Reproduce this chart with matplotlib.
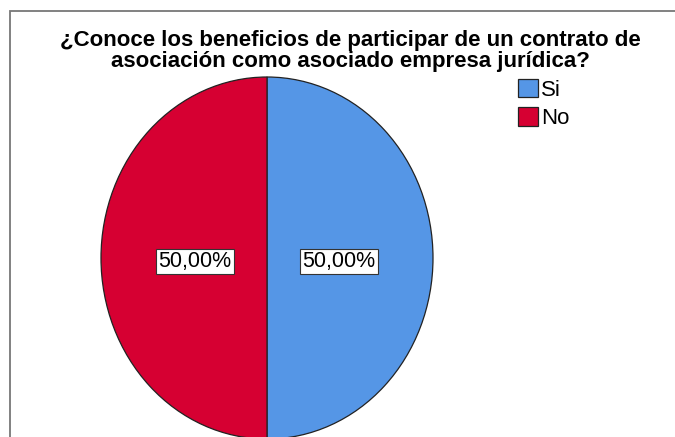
import matplotlib
matplotlib.use("Agg")
import matplotlib.pyplot as plt
from matplotlib.patches import Rectangle

categories = ["Si", "No"]
values = [50.0, 50.0]
colors = ["#5596E6", "#D60032"]
title = "¿Conoce los beneficios de participar de un contrato de\nasociación como asociado empresa jurídica?"

W, H = 675, 437
fig = plt.figure(figsize=(W / 100, H / 100), dpi=100)
plt.rcParams['font.family'] = ['Liberation Sans', 'DejaVu Sans']

# frame of chart area
fig.add_artist(Rectangle((10 / W, -0.1), 1.2, (H - 11) / H + 0.1, transform=fig.transFigure,
                         fill=False, edgecolor="#777777", linewidth=1.3))

# pie axes (slightly elliptical, as in the original)
left_px, right_px, top_px, bot_px = 101, 433, 77, 439
ax = fig.add_axes([left_px / W, (H - bot_px) / H, (right_px - left_px) / W, (bot_px - top_px) / H])
wedges, texts, autotexts = ax.pie(values, colors=colors, startangle=90, counterclock=False,
                                  autopct=lambda p: f"{p:.2f}%".replace(".", ","),
                                  pctdistance=0.435,
                                  wedgeprops=dict(edgecolor="#222222", linewidth=0.9),
                                  textprops=dict(fontsize=15.5, color="black"))
for t in autotexts:
    x, y = t.get_position()
    t.set_position((x, y - 0.02))
    t.set_bbox(dict(boxstyle="square,pad=0.1", facecolor="white", edgecolor="#333333", linewidth=0.8))
ax.set_aspect('auto')
ax.set_xlim(-1, 1)
ax.set_ylim(-1, 1)
ax.axis('off')

fig.text(350 / W, 1 - 51 / H, title, ha="center", va="center", fontsize=16,
         fontweight="bold", linespacing=0.98)

leg = fig.legend(wedges, categories, loc="upper left", bbox_to_anchor=(518 / W, 1 - 79 / H),
                 frameon=False, fontsize=16, handlelength=0.9, handleheight=0.9,
                 handletextpad=0.12, labelspacing=0.28, borderpad=0, borderaxespad=0)

fig.savefig("out.png", dpi=100)
